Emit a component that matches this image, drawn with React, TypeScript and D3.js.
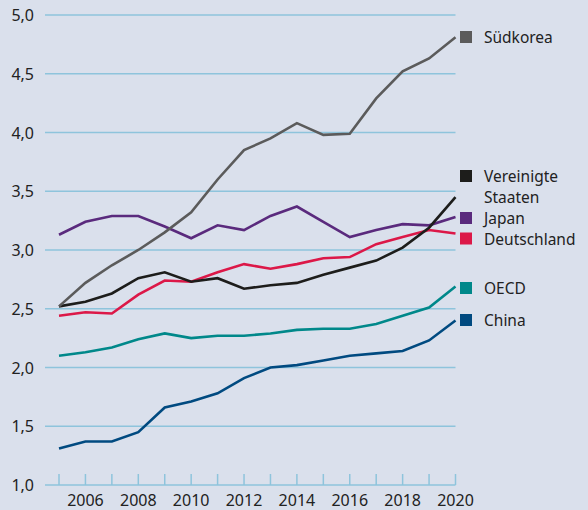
import React from "react";
import * as d3 from "d3";

const years = [2005, 2006, 2007, 2008, 2009, 2010, 2011, 2012, 2013, 2014, 2015, 2016, 2017, 2018, 2019, 2020];
const suedkorea = [2.52, 2.72, 2.87, 3.0, 3.15, 3.32, 3.6, 3.85, 3.95, 4.08, 3.98, 3.99, 4.29, 4.52, 4.63, 4.81];
const usa = [2.52, 2.56, 2.63, 2.76, 2.81, 2.73, 2.76, 2.67, 2.7, 2.72, 2.79, 2.85, 2.91, 3.02, 3.19, 3.45];
const japan = [3.13, 3.24, 3.29, 3.29, 3.2, 3.1, 3.21, 3.17, 3.29, 3.37, 3.24, 3.11, 3.17, 3.22, 3.21, 3.28];
const deutschland = [2.44, 2.47, 2.46, 2.62, 2.74, 2.73, 2.81, 2.88, 2.84, 2.88, 2.93, 2.94, 3.05, 3.11, 3.17, 3.14];
const oecd = [2.1, 2.13, 2.17, 2.24, 2.29, 2.25, 2.27, 2.27, 2.29, 2.32, 2.33, 2.33, 2.37, 2.44, 2.51, 2.69];
const china = [1.31, 1.37, 1.37, 1.45, 1.66, 1.71, 1.78, 1.91, 2.0, 2.02, 2.06, 2.1, 2.12, 2.14, 2.23, 2.4];

const yTicks = [1.0, 1.5, 2.0, 2.5, 3.0, 3.5, 4.0, 4.5, 5.0];
const xTickLabels = [2006, 2008, 2010, 2012, 2014, 2016, 2018, 2020];

const series = [
  { name: ["Südkorea"], values: suedkorea, color: "#5b5b5b", legendY: 37 },
  { name: ["Vereinigte", "Staaten"], values: usa, color: "#1d1d1b", legendY: 176 },
  { name: ["Japan"], values: japan, color: "#5a2a7d", legendY: 218 },
  { name: ["Deutschland"], values: deutschland, color: "#dc1848", legendY: 238.5 },
  { name: ["OECD"], values: oecd, color: "#00888a", legendY: 288 },
  { name: ["China"], values: china, color: "#004a80", legendY: 320 },
];

const drawOrder = [4, 5, 3, 2, 1, 0];

export default function App() {
  const W = 588, H = 510;
  const x = d3.scaleLinear().domain([2005, 2020]).range([59, 455.5]);
  const y = d3.scaleLinear().domain([1, 5]).range([485, 15]);
  const line = d3.line<number>().x((_, i) => x(years[i])).y((d) => y(d));
  const font = "'Noto Sans', 'Open Sans', sans-serif";
  const grid = "#8ec4dc";
  return (
    <svg width={W} height={H} style={{ position: "absolute", left: 0, top: 0, background: "#dae0ec" }} fontFamily={font}>
      <rect x={0} y={0} width={W} height={H} fill="#dae0ec" />
      {yTicks.map((t) => (
        <g key={t}>
          <line x1={45} x2={455.5} y1={y(t)} y2={y(t)} stroke={grid} strokeWidth={1.5} />
          <text x={34} y={y(t) + 6} textAnchor="end" fontSize={16} fill="#222">
            {d3.format(".1f")(t).replace(".", ",")}
          </text>
        </g>
      ))}
      {years.map((yr) => (
        <line key={yr} x1={x(yr)} x2={x(yr)} y1={474} y2={485} stroke={grid} strokeWidth={1.5} />
      ))}
      {xTickLabels.map((yr) => (
        <text key={yr} x={x(yr)} y={505.5} textAnchor="middle" fontSize={16} fill="#222">
          {yr}
        </text>
      ))}
      {drawOrder.map((i) => {
        const s = series[i];
        return (
          <path key={i} d={line(s.values) || ""} fill="none" stroke={s.color} strokeWidth={2.6} strokeLinejoin="miter" />
        );
      })}
      {series.map((s, i) => (
        <g key={i}>
          <rect x={460} y={s.legendY - 6} width={12} height={12} fill={s.color} />
          {s.name.map((n, j) => (
            <text key={j} x={484} y={s.legendY + 6 + j * 21} fontSize={15.5} fill="#222">
              {n}
            </text>
          ))}
        </g>
      ))}
    </svg>
  );
}
